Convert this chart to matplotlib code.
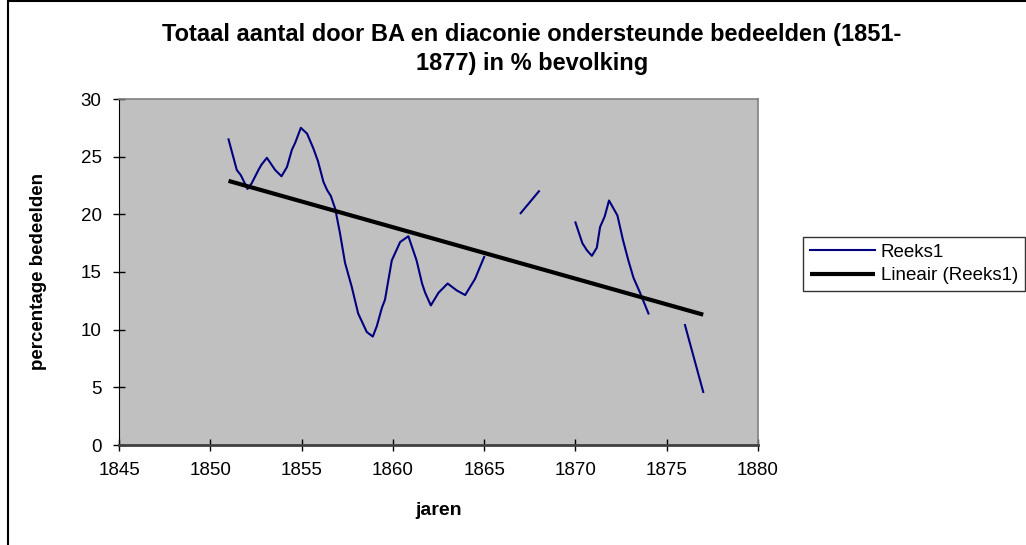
import matplotlib.pyplot as plt
import numpy as np
from matplotlib.patches import Rectangle

# NaN marks the gaps in the series
years = [1851.0, 1851.45, 1851.67, 1852.04, 1852.27, 1852.64, 1852.8, 1853.1, 1853.55, 1853.9,
         1854.2, 1854.47, 1854.65, 1854.96, 1855.3, 1855.65, 1855.9, 1856.2, 1856.4, 1856.6,
         1856.84, 1857.1, 1857.38, 1857.75, 1858.1, 1858.57, 1858.9, 1859.12, 1859.4, 1859.57,
         1859.94, 1860.4, 1860.85, 1861.3, 1861.6, 1861.77, 1862.08, 1862.5, 1863.0, 1863.5,
         1863.96, 1864.5, 1865.0,
         np.nan,
         1867.0, 1868.0,
         np.nan,
         1870.0, 1870.38, 1870.62, 1870.9, 1871.17, 1871.35, 1871.6, 1871.84, 1872.3, 1872.6,
         1872.9, 1873.18, 1873.54, 1874.0,
         np.nan,
         1876.0, 1877.0]
values = [26.5, 23.85, 23.4, 22.2, 22.7, 23.85, 24.3, 24.9, 23.85, 23.3,
          24.1, 25.6, 26.2, 27.5, 27.0, 25.7, 24.6, 22.8, 22.1, 21.6,
          20.5, 18.4, 15.8, 13.7, 11.4, 9.8, 9.4, 10.3, 11.9, 12.6,
          16.0, 17.6, 18.1, 16.0, 14.0, 13.2, 12.1, 13.2, 14.0, 13.4,
          13.0, 14.4, 16.3,
          np.nan,
          20.1, 22.0,
          np.nan,
          19.3, 17.5, 16.9, 16.4, 17.1, 18.9, 19.8, 21.2, 19.9, 17.8,
          16.0, 14.5, 13.2, 11.4,
          np.nan,
          10.4, 4.6]

trend_years = [1851, 1877]
trend_values = [22.9, 11.3]

plt.rcParams['font.family'] = ['Liberation Sans', 'DejaVu Sans']

fig = plt.figure(figsize=(10.26, 5.45), dpi=100)
ax = fig.add_axes([119/1026, 1 - 445/545, (758 - 119)/1026, (445 - 99)/545])
ax.set_facecolor('#C0C0C0')

ax.plot(years, values, color='#000080', lw=1.5, label='Reeks1')
ax.plot(trend_years, trend_values, color='black', lw=3, solid_capstyle='butt', label='Lineair (Reeks1)')

ax.set_xlim(1845, 1880)
ax.set_ylim(0, 30)
ax.set_xticks(range(1845, 1881, 5))
ax.set_yticks(range(0, 31, 5))
ax.tick_params(direction='inout', length=9, width=1, labelsize=13.5, color='black', pad=8)

for s in ['top', 'right']:
    ax.spines[s].set_color('#808080')
    ax.spines[s].set_linewidth(1.2)
ax.spines['left'].set_color('black')
ax.spines['bottom'].set_color('#404040')
ax.spines['bottom'].set_linewidth(2)

ax.set_xlabel('jaren', fontsize=14, fontweight='bold', labelpad=16)
ax.set_ylabel('percentage bedeelden', fontsize=13.5, fontweight='bold', labelpad=24)

fig.text(532/1026, 1 - 49/545,
         'Totaal aantal door BA en diaconie ondersteunde bedeelden (1851-\n1877) in % bevolking',
         ha='center', va='center', fontsize=17, fontweight='bold', linespacing=1.3)

leg = fig.legend(loc='upper left', bbox_to_anchor=(803/1026, 1 - 237/545), fontsize=13.5,
                 frameon=True, fancybox=False, handlelength=3.5, borderpad=0.35,
                 handletextpad=0.3, labelspacing=0.35, borderaxespad=0)
leg.get_frame().set_edgecolor('black')
leg.get_frame().set_linewidth(1)

# outer chart border
fig.patches.append(Rectangle((8/1026, -0.05), 1.2, 1.05 - 1.5/545, transform=fig.transFigure,
                             fill=False, edgecolor='black', lw=1.5, clip_on=False))

fig.savefig('out.png', dpi=100)
